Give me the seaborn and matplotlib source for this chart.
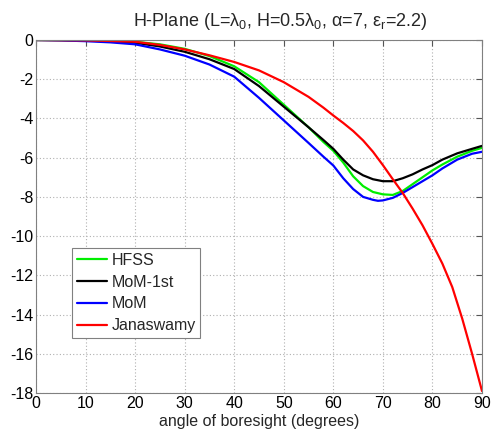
import numpy as np
import pandas as pd
import matplotlib
matplotlib.use("Agg")
import matplotlib.pyplot as plt
import seaborn as sns

# ---- data ----
hfss_x = [0, 5, 10, 15, 20, 25, 30, 35, 40, 45, 50, 55, 58, 60, 62, 64, 66, 68, 70, 72, 74, 76,
          78, 80, 82, 85, 88, 90]
hfss_y = [0, 0, -0.01, -0.04, -0.09, -0.22, -0.45, -0.82, -1.34, -2.15, -3.3, -4.45, -5.2, -5.65,
          -6.25, -6.95, -7.45, -7.75, -7.87, -7.9, -7.7, -7.35, -7.0, -6.65, -6.35, -5.95, -5.65, -5.5]

mom1_x = [0, 5, 10, 15, 20, 25, 30, 35, 40, 45, 50, 55, 58, 60, 62, 64, 66, 68, 70, 72, 74, 76,
          78, 80, 82, 85, 88, 90]
mom1_y = [0, -0.01, -0.03, -0.07, -0.14, -0.33, -0.6, -0.98, -1.48, -2.35, -3.4, -4.45, -5.1, -5.55,
          -6.1, -6.6, -6.9, -7.1, -7.2, -7.2, -7.05, -6.85, -6.6, -6.38, -6.1, -5.78, -5.55, -5.4]

mom_x = [0, 5, 10, 15, 20, 25, 30, 35, 40, 45, 50, 55, 58, 60, 62, 64, 66, 68, 69, 70, 72, 74,
         76, 78, 80, 82, 85, 88, 90]
mom_y = [0, -0.02, -0.06, -0.12, -0.22, -0.48, -0.8, -1.25, -1.87, -2.95, -4.1, -5.25, -5.95, -6.4,
         -7.05, -7.6, -8.0, -8.15, -8.2, -8.18, -8.05, -7.8, -7.5, -7.2, -6.9, -6.55, -6.1, -5.8, -5.7]

jan_x = [0, 5, 10, 15, 20, 25, 30, 35, 40, 45, 50, 55, 58, 60, 62, 64, 66, 68, 70, 72, 74, 76,
         78, 80, 82, 84, 86, 88, 90]
jan_y = [0, -0.01, -0.02, -0.05, -0.09, -0.25, -0.48, -0.78, -1.12, -1.55, -2.15, -2.9, -3.45,
         -3.85, -4.23, -4.64, -5.12, -5.7, -6.38, -7.1, -7.8, -8.6, -9.45, -10.4, -11.4, -12.6,
         -14.2, -16.0, -17.9]

series_names = ["HFSS", "MoM-1st", "MoM", "Janaswamy"]
colors = ["#00ee00", "#000000", "#0000ff", "#ff0000"]

title = r"H-Plane (L=$\lambda_0$, H=0.5$\lambda_0$, $\alpha$=7, $\varepsilon_r$=2.2)"
xlabel = "angle of boresight (degrees)"
xticks = [0, 10, 20, 30, 40, 50, 60, 70, 80, 90]
yticks = [0, -2, -4, -6, -8, -10, -12, -14, -16, -18]

frames = []
for name, xs, ys in zip(series_names,
                        [hfss_x, mom1_x, mom_x, jan_x],
                        [hfss_y, mom1_y, mom_y, jan_y]):
    frames.append(pd.DataFrame({"angle": xs, "val": ys, "series": name}))
df = pd.concat(frames, ignore_index=True)

sns.set_style("white")
plt.rcParams["font.family"] = ["Liberation Sans", "DejaVu Sans"]
plt.rcParams["mathtext.fontset"] = "custom"
plt.rcParams["mathtext.rm"] = "Liberation Sans"
plt.rcParams["mathtext.it"] = "Liberation Sans"
plt.rcParams["mathtext.default"] = "regular"

fig = plt.figure(figsize=(4.92, 4.38), dpi=100)
ax = fig.add_axes([36 / 492, 45 / 438, 446 / 492, 353 / 438])

sns.lineplot(data=df, x="angle", y="val", hue="series", hue_order=series_names,
             palette=colors, linewidth=1.6, sort=False, estimator=None, ax=ax)

ax.set_xlim(0, 90)
ax.set_ylim(-18, 0)
ax.set_xticks(xticks)
ax.set_yticks(yticks)
ax.set_xticklabels([str(t) for t in xticks])
ax.set_yticklabels([str(t) for t in yticks])
ax.tick_params(direction="in", top=True, right=True, length=4, width=0.8,
               labelsize=11.5, colors="#555555", labelcolor="black", pad=2)
ax.grid(True, linestyle=(0, (1, 2)), color="#b0b0b0", linewidth=0.8)
for s in ax.spines.values():
    s.set_color("#808080")
    s.set_linewidth(0.8)

ax.set_xlabel(xlabel, fontsize=11.5, labelpad=2.5)
ax.set_ylabel("")
ax.set_title(title, fontsize=13, pad=10, x=0.547)

leg = ax.legend(loc="upper left", bbox_to_anchor=(0.081, 0.41), borderaxespad=0,
                fontsize=11.5, handlelength=1.9, handletextpad=0.25,
                labelspacing=0.42, borderpad=0.3, fancybox=False, framealpha=1)
leg.get_frame().set_edgecolor("#808080")
leg.get_frame().set_linewidth(0.8)

fig.savefig("out.png", dpi=100)
